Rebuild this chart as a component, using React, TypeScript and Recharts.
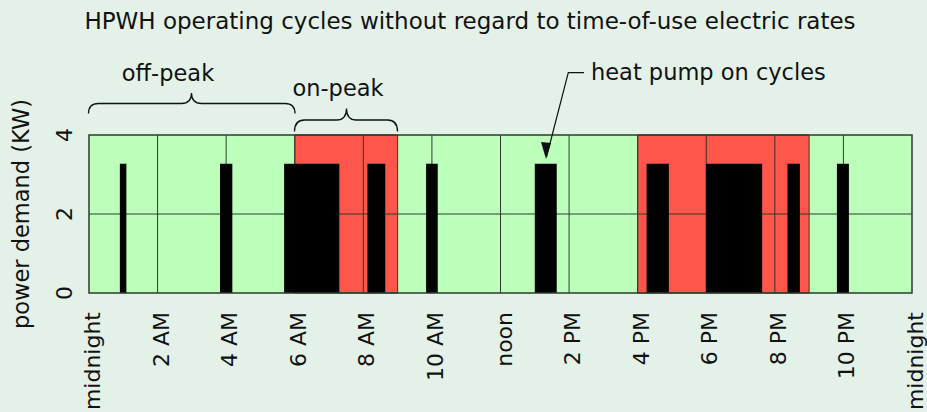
import React from 'react';
import { ComposedChart, XAxis, YAxis, CartesianGrid, ReferenceArea, ReferenceLine, Line } from 'recharts';

// hours of the day (0 = midnight) and their labels
const hourTicks = [0, 2, 4, 6, 8, 10, 12, 14, 16, 18, 20, 22, 24];
const hourLabels = ['midnight', '2 AM', '4 AM', '6 AM', '8 AM', '10 AM', 'noon', '2 PM', '4 PM', '6 PM', '8 PM', '10 PM', 'midnight'];
const demandTicks = [0, 2, 4];

// on-peak rate windows
const peakStarts = [6, 16];
const peakEnds = [9, 21];

// heat pump on cycles (hour start / end, kW)
const cycleStarts = [0.9, 3.82, 5.69, 8.12, 9.83, 13.0, 16.26, 17.99, 20.37, 21.81];
const cycleEnds = [1.09, 4.18, 7.3, 8.64, 10.17, 13.64, 16.91, 19.63, 20.73, 22.16];
const cycleKW = [3.27, 3.27, 3.27, 3.27, 3.27, 3.27, 3.27, 3.27, 3.27, 3.27];

const FONT = '"DejaVu Sans", Verdana, sans-serif';
const INK = '#111';
const GRID = '#2f3a30';

const XTick = (props: any) => {
  const { x, payload } = props;
  const bx = x + 11;
  const by = 312;
  return (
    <text x={bx} y={by} transform={`rotate(-90 ${bx} ${by})`} textAnchor="end" fontSize={22} fontFamily={FONT} fill={INK}>
      {hourLabels[hourTicks.indexOf(payload.value)]}
    </text>
  );
};

const YTick = (props: any) => {
  const { y, payload } = props;
  const bx = 72;
  return (
    <text x={bx} y={y} transform={`rotate(-90 ${bx} ${y})`} textAnchor="middle" fontSize={22} fontFamily={FONT} fill={INK}>
      {payload.value}
    </text>
  );
};

const brace = (x1: number, x2: number, tip: number, yTip: number, yLine: number, yEnd: number) => {
  const r = 10;
  return `M${x1},${yEnd} Q${x1},${yLine} ${x1 + r},${yLine} L${tip - r},${yLine} Q${tip},${yLine} ${tip},${yTip} Q${tip},${yLine} ${tip + r},${yLine} L${x2 - r},${yLine} Q${x2},${yLine} ${x2},${yEnd}`;
};

export default function App() {
  // demand profile built from the cycles (only used to give the axes a domain)
  const data: { hour: number; kw: number }[] = [{ hour: 0, kw: 0 }];
  cycleStarts.forEach((s, i) => {
    data.push({ hour: s, kw: cycleKW[i] });
    data.push({ hour: cycleEnds[i], kw: 0 });
  });
  data.push({ hour: 24, kw: 0 });

  return (
    <div style={{ position: 'absolute', left: 0, top: 0, width: 927, height: 412, background: '#e3f1e8' }}>
      <ComposedChart width={927} height={412} data={data} margin={{ top: 135, right: 15, bottom: 0, left: 29 }}>
        <CartesianGrid horizontal={false} vertical={false} fill="#bbffbb" />
        <XAxis
          dataKey="hour"
          type="number"
          domain={[0, 24]}
          ticks={hourTicks}
          interval={0}
          height={119}
          axisLine={false}
          tickLine={false}
          tick={<XTick />}
        />
        <YAxis type="number" domain={[0, 4]} ticks={demandTicks} width={60} axisLine={false} tickLine={false} tick={<YTick />} />
        <Line dataKey="kw" type="stepAfter" stroke="none" dot={false} activeDot={false} isAnimationActive={false} />
        {peakStarts.map((s, i) => (
          <ReferenceArea key={`peak${i}`} zIndex={10} x1={s} x2={peakEnds[i]} y1={0} y2={4} fill="#ff564b" fillOpacity={1} stroke={GRID} strokeWidth={1} />
        ))}
        {hourTicks.slice(1, -1).map((h) => (
          <ReferenceLine key={`gx${h}`} zIndex={20} x={h} stroke={GRID} strokeWidth={1} />
        ))}
        <ReferenceLine y={2} zIndex={20} stroke={GRID} strokeWidth={1} />
        {cycleStarts.map((s, i) => (
          <ReferenceArea key={`cyc${i}`} zIndex={900} x1={s} x2={cycleEnds[i]} y1={0} y2={cycleKW[i]} fill="#000" fillOpacity={1} stroke="none" />
        ))}
        <ReferenceArea x1={0} x2={24} y1={0} y2={4} zIndex={950} fill="none" stroke={GRID} strokeWidth={1.5} />
      </ComposedChart>
      <svg width={927} height={412} style={{ position: 'absolute', left: 0, top: 0, pointerEvents: 'none' }}>
        <text x={470} y={29} textAnchor="middle" fontSize={23} fontFamily={FONT} fill={INK}>
          HPWH operating cycles without regard to time-of-use electric rates
        </text>
        <text x={29} y={214} transform="rotate(-90 29 214)" textAnchor="middle" fontSize={22.5} fontFamily={FONT} fill={INK}>
          power demand (KW)
        </text>
        <path d={brace(88.5, 295, 191.5, 93, 103.5, 113.5)} fill="none" stroke={INK} strokeWidth={1.3} />
        <text x={168} y={81} textAnchor="middle" fontSize={22.5} fontFamily={FONT} fill={INK}>off-peak</text>
        <path d={brace(294.5, 397.5, 346.5, 108.5, 120, 131.5)} fill="none" stroke={INK} strokeWidth={1.3} />
        <text x={338} y={96} textAnchor="middle" fontSize={22.5} fontFamily={FONT} fill={INK}>on-peak</text>
        <polyline points="584,72.7 568.3,72.7 546.5,157" fill="none" stroke={INK} strokeWidth={1.2} />
        <path d="M541,142 L546,159 L551,143 z" fill={INK} />
        <text x={591} y={80} textAnchor="start" fontSize={22.5} fontFamily={FONT} fill={INK}>heat pump on cycles</text>
      </svg>
    </div>
  );
}
